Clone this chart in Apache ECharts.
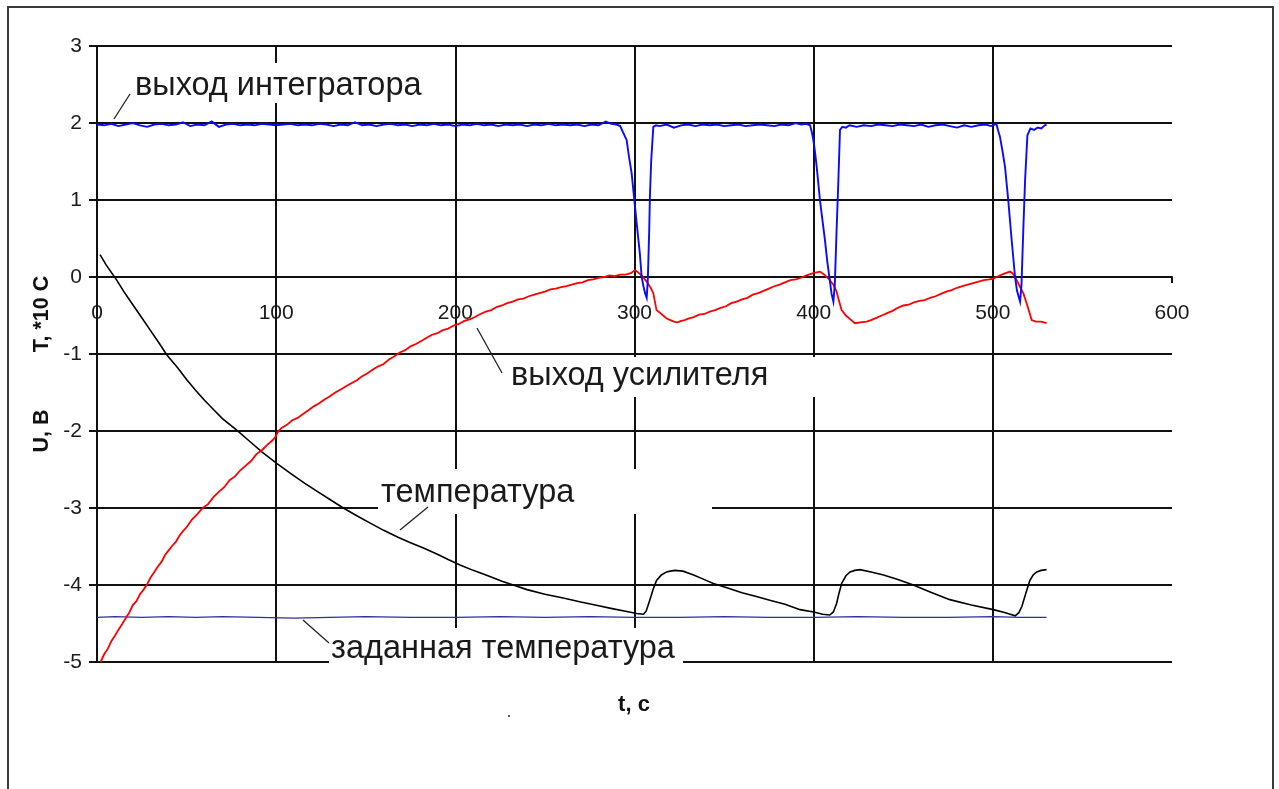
<!DOCTYPE html>
<html>
<head>
<meta charset="utf-8">
<title>Регулирование температуры</title>
<script src="https://cdn.jsdelivr.net/npm/echarts@6/dist/echarts.min.js"></script>
<style>
  html, body { margin: 0; padding: 0; background: #fff; }
  #chart { width: 1279px; height: 789px; }
</style>
</head>
<body>
<div id="chart"></div>
<script>
// Time axis ticks (seconds) and value axis ticks (volts / tens of degrees)
const xTicks = [0, 100, 200, 300, 400, 500, 600];
const yTicks = [-5, -4, -3, -2, -1, 0, 1, 2, 3];

// Integrator output, V
const integrator = [
  [0,1.98],[4,1.97],[8,1.99],[12,1.96],[16,1.98],[20,2.00],[24,1.97],[28,1.95],[32,1.98],[36,1.99],
  [40,1.97],[44,1.98],[48,2.01],[52,1.96],[56,1.98],[60,1.97],[64,2.02],[68,1.95],[72,1.98],[76,1.99],
  [80,1.97],[84,1.98],[88,1.97],[92,1.99],[96,1.98],[100,1.97],[104,1.98],[108,1.99],[112,1.97],[116,1.98],
  [120,1.97],[124,1.99],[128,1.98],[132,1.96],[136,1.98],[140,1.97],[144,2.01],[148,1.97],[152,1.98],[156,1.96],
  [160,1.98],[164,1.99],[168,1.97],[172,1.98],[176,1.96],[180,1.98],[184,1.97],[188,1.99],[192,1.97],[196,1.98],
  [200,1.96],[204,1.98],[208,1.97],[212,1.99],[216,1.97],[220,1.98],[224,1.96],[228,1.98],[232,1.97],[236,1.98],
  [240,1.96],[244,1.98],[248,1.97],[252,1.99],[256,1.97],[260,1.98],[264,1.97],[268,1.98],[272,1.96],[276,1.98],
  [280,1.97],[284,2.02],[287,1.99],[290,1.98],
  [292,1.96],[294,1.86],[295.6,1.78],[297,1.55],[298.4,1.35],[300.3,0.91],[301,0.75],[302.2,0.48],[303,0.30],
  [304,0.00],[305,-0.12],[305.9,-0.21],[306.8,-0.27],[307.4,-0.05],[307.7,0.18],[308.2,0.60],[308.6,1.04],
  [309.3,1.50],[310.5,1.95],[312,1.97],
  [314,1.96],[318,1.98],[322,1.94],[326,1.97],[330,1.98],[334,1.96],[338,1.98],[342,1.97],[346,1.98],[350,1.96],
  [354,1.97],[358,1.98],[362,1.96],[366,1.97],[370,1.98],[374,1.97],[378,1.96],[382,1.98],[386,1.97],[390,2.00],
  [393,1.98],[396,1.99],[398,1.97],
  [399,1.88],[399.8,1.78],[400.6,1.65],[401.7,1.43],[403.5,1.00],[405,0.72],[406.3,0.48],[407.6,0.20],
  [409,-0.04],[410,-0.22],[411,-0.32],[411.8,-0.10],[412.8,0.61],[413.8,1.26],[414.7,1.91],[416,1.95],
  [418,1.94],[420,1.97],[424,1.95],[428,1.97],[432,1.96],[436,1.98],[440,1.97],[444,1.96],[448,1.98],[452,1.97],
  [456,1.96],[460,1.98],[464,1.95],[468,1.97],[472,1.98],[476,1.96],[480,1.94],[484,1.97],[488,1.95],[492,1.97],
  [496,1.98],[499,1.96],[502,1.99],
  [503,1.90],[504,1.82],[505.5,1.62],[506.8,1.43],[508.6,1.00],[510.5,0.48],[512.4,0.00],[513.5,-0.18],
  [515.2,-0.32],[516,-0.10],[517,0.61],[518,1.26],[519.3,1.84],[521,1.93],[523,1.91],[525,1.94],[527,1.93],
  [529,1.97],[530,1.98]
];

// Amplifier output, V
const amplifier = [
  [2,-5.00],[4,-4.90],[6,-4.83],[8,-4.73],[10,-4.66],[12,-4.58],[14,-4.51],[16.6,-4.41],[18,-4.36],[20,-4.26],
  [22,-4.21],[24,-4.12],[26,-4.06],[28,-3.99],[30,-3.90],[32,-3.83],[34,-3.76],[36,-3.70],[38,-3.61],[40,-3.55],
  [42,-3.49],[44,-3.44],[46,-3.36],[48,-3.30],[50,-3.25],[53,-3.15],[56,-3.08],[59,-3.00],[62,-2.95],[65,-2.86],
  [68,-2.79],[71,-2.73],[74,-2.64],[77,-2.59],[80,-2.51],[83,-2.45],[86,-2.39],[89,-2.30],[92,-2.25],[95,-2.18],
  [98,-2.12],[99.5,-2.08],[101,-2.01],[103,-1.96],[106,-1.92],[109,-1.86],[112,-1.83],[115,-1.78],[118,-1.73],
  [121,-1.68],[124,-1.64],[127,-1.59],[130,-1.55],[133,-1.50],[136,-1.46],[139,-1.42],[142,-1.38],[145,-1.34],
  [148,-1.29],[151,-1.25],[154,-1.20],[157,-1.16],[160,-1.13],[163,-1.07],[166,-1.03],[169,-0.98],[172,-0.95],
  [175,-0.90],[178,-0.87],[181,-0.83],[184,-0.79],[187,-0.75],[190,-0.73],[193,-0.69],[196,-0.67],[199,-0.63],
  [202,-0.61],[205,-0.57],[208,-0.55],[211,-0.52],[214,-0.48],[217,-0.45],[220,-0.43],[223,-0.39],[226,-0.37],
  [229,-0.34],[232,-0.32],[235,-0.29],[238,-0.28],[241,-0.25],[244,-0.23],[247,-0.21],[250,-0.19],[253,-0.16],
  [256,-0.15],[259,-0.13],[262,-0.12],[265,-0.10],[268,-0.08],[271,-0.07],[274,-0.04],[277,-0.03],[280,-0.01],
  [283,0.00],[286,0.02],[289,0.01],[292,0.03],[295,0.03],[298,0.05],[300.3,0.09],[302,0.06],[304,0.02],
  [306.8,-0.06],[309,-0.14],[310.5,-0.21],[312.3,-0.43],[314,-0.46],[316,-0.50],[318,-0.54],[320,-0.56],
  [322,-0.58],[324,-0.59],[326,-0.57],[328,-0.56],[330,-0.54],[333,-0.52],[336,-0.49],[339,-0.48],[342,-0.45],
  [345,-0.43],[348,-0.40],[351,-0.38],[354,-0.34],[357,-0.32],[360,-0.29],[363,-0.27],[366,-0.23],[369,-0.21],
  [372,-0.18],[375,-0.15],[378,-0.12],[381,-0.10],[384,-0.07],[387,-0.04],[390,-0.03],[393,-0.01],[396,0.02],
  [399.8,0.05],[403.5,0.07],[406,0.03],[409,-0.04],[411,-0.10],[412.8,-0.19],[414,-0.30],[415.6,-0.43],
  [418,-0.50],[420,-0.54],[423,-0.60],[426,-0.59],[429.6,-0.58],[432,-0.56],[435,-0.53],[438,-0.50],[441,-0.47],
  [444,-0.44],[447,-0.40],[450,-0.37],[453,-0.36],[456,-0.33],[459,-0.31],[462,-0.30],[465,-0.27],[468,-0.25],
  [471,-0.22],[474,-0.19],[477,-0.17],[480,-0.14],[483,-0.12],[486,-0.10],[489,-0.08],[492,-0.06],[495,-0.04],
  [498,-0.03],[500.3,-0.02],[503,0.01],[506,0.04],[509.6,0.07],[511,0.05],[513.3,-0.04],[515,-0.12],[517,-0.21],
  [519,-0.35],[521.7,-0.56],[524,-0.58],[527,-0.58],[530,-0.60]
];

// Measured temperature, tens of degrees C
const temperature = [
  [1.7,0.29],[5,0.16],[8,0.06],[11,-0.04],[15,-0.19],[20,-0.36],[25,-0.53],[30,-0.70],[35,-0.87],[38.9,-1.01],
  [45,-1.18],[50,-1.33],[55,-1.47],[60,-1.60],[65,-1.72],[70,-1.84],[78,-1.99],[85,-2.13],[92,-2.27],[100.3,-2.42],
  [108,-2.55],[116,-2.68],[124,-2.80],[130,-2.89],[137.5,-3.00],[145,-3.10],[152,-3.19],[160,-3.29],[168,-3.38],
  [175,-3.45],[182.2,-3.52],[190,-3.60],[196,-3.67],[202.6,-3.74],[210,-3.81],[219.3,-3.89],[226,-3.95],
  [232.3,-4.00],[240,-4.06],[250,-4.12],[260.2,-4.17],[270,-4.22],[280,-4.27],[288.2,-4.31],[295,-4.34],
  [301.2,-4.37],[305,-4.38],[306.5,-4.34],[308.6,-4.19],[310.5,-4.05],[312.3,-3.94],[315,-3.87],[317.9,-3.83],
  [320,-3.82],[322.6,-3.81],[327,-3.82],[333,-3.87],[340,-3.94],[344,-3.98],[352,-4.04],[360,-4.10],[368,-4.15],
  [376,-4.20],[384,-4.25],[392.4,-4.32],[400,-4.35],[405,-4.38],[409,-4.39],[411,-4.35],[412.8,-4.24],[414,-4.12],
  [415.6,-3.98],[418,-3.88],[420.3,-3.83],[423,-3.81],[425.9,-3.80],[432,-3.83],[439,-3.87],[447,-3.93],
  [455.6,-4.00],[465,-4.09],[476,-4.19],[488,-4.26],[500.3,-4.32],[507,-4.36],[512.5,-4.40],[514.5,-4.36],
  [516.2,-4.28],[518.5,-4.10],[520.7,-3.94],[522.5,-3.87],[524.5,-3.83],[527,-3.81],[530,-3.80]
];

// Set-point temperature, tens of degrees C
const setpoint = [
  [0,-4.42],[10,-4.41],[25,-4.42],[40,-4.41],[55,-4.42],[70,-4.41],[90,-4.42],[110,-4.43],[130,-4.42],
  [150,-4.41],[175,-4.42],[200,-4.42],[225,-4.41],[250,-4.42],[275,-4.41],[300,-4.42],[325,-4.42],[350,-4.41],
  [375,-4.42],[400,-4.42],[425,-4.41],[450,-4.42],[475,-4.42],[500,-4.41],[515,-4.42],[530,-4.42]
];

const FONT = '"Liberation Sans", Arial, sans-serif';
const GRID = { left: 97, top: 46, right: 107, bottom: 127 };
const lineColor = '#111';

const chart = echarts.init(document.getElementById('chart'), null, { renderer: 'canvas' });

// The time axis is drawn through the zero level of the value axis:
// shift it up from the bottom of the grid by the pixel height of (0 - yMin).
const plotHeight = 789 - GRID.top - GRID.bottom;
const zeroShift = plotHeight * (0 - yTicks[0]) / (yTicks[yTicks.length - 1] - yTicks[0]);

function curve(name, data, color, width) {
  return {
    name, type: 'line', data, showSymbol: false, symbol: 'none',
    lineStyle: { color, width, join: 'miter' }, z: 3, silent: true
  };
}

// Annotation: white box hiding the grid, the caption, and a short leader line
function note(text, box, tx, ty, lead) {
  return [
    { type: 'rect', z: 50, shape: box, style: { fill: '#fff' }, silent: true },
    { type: 'text', z: 51, x: tx, y: ty,
      style: { text, font: '32.5px ' + FONT, fill: '#1a1a1a', verticalAlign: 'middle', align: 'left' } },
    { type: 'line', z: 51, shape: lead, style: { stroke: '#222', lineWidth: 1.3 } }
  ];
}

const option = {
  animation: false,
  backgroundColor: '#fff',
  grid: GRID,
  xAxis: {
    type: 'value', min: xTicks[0], max: xTicks[xTicks.length - 1], interval: 100,
    position: 'bottom', offset: -zeroShift,
    axisLine: { show: true, onZero: false, lineStyle: { color: lineColor, width: 2 } },
    axisTick: { show: true, length: 6, lineStyle: { color: lineColor, width: 2 } },
    axisLabel: { show: true, margin: 26, fontFamily: FONT, fontSize: 21, color: '#1a1a1a',
      showMinLabel: true, showMaxLabel: true },
    splitLine: { show: true, showMinLine: false, showMaxLine: false, lineStyle: { color: lineColor, width: 2 } }
  },
  yAxis: {
    type: 'value', min: yTicks[0], max: yTicks[yTicks.length - 1], interval: 1,
    axisLine: { show: true, onZero: false, lineStyle: { color: lineColor, width: 2 } },
    axisTick: { show: true, length: 8, lineStyle: { color: lineColor, width: 2 } },
    axisLabel: { margin: 15, fontFamily: FONT, fontSize: 21, color: '#1a1a1a' },
    splitLine: { show: true, lineStyle: { color: lineColor, width: 2 } }
  },
  series: [
    curve('заданная температура', setpoint, '#2f2f9e', 1.3),
    curve('температура', temperature, '#000000', 1.6),
    curve('выход усилителя', amplifier, '#ff0000', 1.8),
    curve('выход интегратора', integrator, '#0a0aff', 1.9)
  ],
  graphic: [
    // outer frame
    { type: 'rect', z: 60, shape: { x: 8, y: 7, width: 1265, height: 800 },
      style: { fill: null, stroke: '#3a3a3a', lineWidth: 2 }, silent: true },
    ...note('выход интегратора', { x: 131, y: 63, width: 300, height: 40 }, 135, 86,
      { x1: 114, y1: 119, x2: 130, y2: 94 }),
    ...note('выход усилителя', { x: 500, y: 357, width: 330, height: 40 }, 511, 376,
      { x1: 477, y1: 328, x2: 502, y2: 373 }),
    ...note('температура', { x: 378, y: 469, width: 334, height: 45 }, 381, 493,
      { x1: 400, y1: 530, x2: 428, y2: 507 }),
    ...note('заданная температура', { x: 329, y: 628, width: 354, height: 40 }, 331, 649,
      { x1: 303, y1: 620, x2: 329, y2: 643 }),
    // axis titles
    { type: 'text', z: 51, x: 42, y: 314, rotation: Math.PI / 2,
      style: { text: 'T, *10 C', font: 'bold 21.5px ' + FONT, fill: '#111', align: 'center', verticalAlign: 'middle' } },
    { type: 'text', z: 51, x: 42, y: 431, rotation: Math.PI / 2,
      style: { text: 'U, B', font: 'bold 21.5px ' + FONT, fill: '#111', align: 'center', verticalAlign: 'middle' } },
    { type: 'text', z: 51, x: 634, y: 705,
      style: { text: 't, c', font: 'bold 22px ' + FONT, fill: '#111', align: 'center', verticalAlign: 'middle' } },
    { type: 'rect', z: 51, shape: { x: 508, y: 715, width: 2, height: 2 }, style: { fill: '#555' }, silent: true }
  ]
};

chart.setOption(option);
</script>
</body>
</html>
